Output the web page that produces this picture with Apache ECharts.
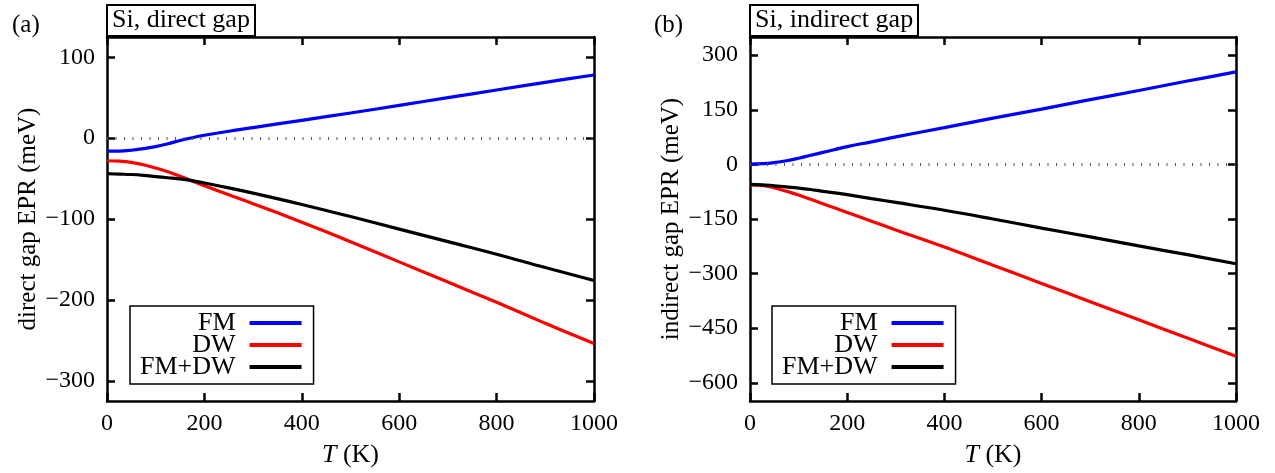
<!DOCTYPE html>
<html>
<head>
<meta charset="utf-8">
<script src="https://cdn.jsdelivr.net/npm/echarts@6/dist/echarts.min.js"></script>
<style>
html,body{margin:0;padding:0;background:#fff;}
#c{width:1275px;height:473px;}
</style>
</head>
<body>
<div id="c"></div>
<script>
// Temperatures (K)
const T = [0, 25, 50, 75, 100, 125, 150, 175, 200, 250, 300, 400, 500, 600, 700, 800, 900, 1000];

// (a) Si, direct gap EPR (meV)
const directFM   = [-16, -16, -15, -13, -10.5, -7, -3, 0.5, 3.5, 8.5, 13, 22, 31, 40.5, 50, 59.5, 69, 78];
const directDW   = [-28, -28.5, -30, -33, -37, -41.5, -47, -53, -59, -70, -81, -104, -128, -153, -178, -203, -229, -254];
const directSum  = [-44, -44.5, -45, -46, -47.5, -49, -50.5, -52.5, -55.5, -61.5, -68, -82, -97, -112.5, -128, -143.5, -160, -176];

// (b) Si, indirect gap EPR (meV)
const indirectFM  = [1, 2, 5, 10, 17, 25, 33, 41, 49, 62, 75.5, 101, 127, 152, 178, 203, 229, 254];
const indirectDW  = [-56, -58, -64, -74, -84, -96, -108, -120, -132, -156, -180, -227, -277, -327, -377, -427, -477, -527];
const indirectSum = [-55, -56, -59, -62, -65, -69, -74, -78, -83, -94, -104.5, -126, -150, -175, -199, -224, -248, -273];

const xTicks = [0, 200, 400, 600, 800, 1000];
const yTicksA = [-300, -200, -100, 0, 100];
const yTicksB = [-600, -450, -300, -150, 0, 150, 300];

const seriesNames = ['FM', 'DW', 'FM+DW'];
const colors = ['#0000ff', '#ff0000', '#000000'];
const panelLabels = ['(a)', '(b)'];
const panelTitles = ['Si, direct gap', 'Si, indirect gap'];
const yNames = ['direct gap EPR (meV)', 'indirect gap EPR (meV)'];

const SERIF = '"Liberation Serif", "DejaVu Serif", serif';
const pair = (xs, ys) => xs.map((x, i) => [x, ys[i]]);
const minus = v => String(v).replace('-', '\u2212');

const grids = [
  {left: 107, top: 37, width: 487, height: 365},
  {left: 750, top: 37, width: 486, height: 365}
];
const yRanges = [[-325, 125, yTicksA], [-650, 350, yTicksB]];

const xAxes = [], yAxes = [], series = [];
grids.forEach((g, gi) => {
  const lineSt = {show: true, onZero: false, lineStyle: {color: '#000', width: 2.5}};
  const tickSt = {show: true, inside: true, length: 8, lineStyle: {color: '#000', width: 2.5}};
  xAxes.push({
    type: 'value', gridIndex: gi, position: 'bottom', min: 0, max: 1000, interval: 200,
    axisLine: lineSt, axisTick: tickSt, splitLine: {show: false},
    axisLabel: {fontFamily: SERIF, fontSize: 24, color: '#000', margin: 11, formatter: v => String(v)},
    name: '{i|T} (K)', nameLocation: 'middle', nameGap: 41,
    nameTextStyle: {fontFamily: SERIF, fontSize: 26, color: '#000',
      rich: {i: {fontFamily: SERIF, fontSize: 26, fontStyle: 'italic', color: '#000'}}}
  });
  xAxes.push({
    type: 'value', gridIndex: gi, position: 'top', min: 0, max: 1000, interval: 200,
    axisLine: lineSt, axisTick: tickSt, splitLine: {show: false}, axisLabel: {show: false}
  });
  const [mn, mx, ticks] = yRanges[gi];
  yAxes.push({
    type: 'value', gridIndex: gi, position: 'left', min: mn, max: mx,
    axisLine: lineSt, splitLine: {show: false},
    axisTick: Object.assign({customValues: ticks}, tickSt),
    axisLabel: {customValues: ticks, fontFamily: SERIF, fontSize: 24, color: '#000', margin: 12, formatter: minus},
    name: yNames[gi], nameLocation: 'middle', nameGap: 66, nameRotate: 90,
    nameTextStyle: {fontFamily: SERIF, fontSize: 25, color: '#000'}
  });
  yAxes.push({
    type: 'value', gridIndex: gi, position: 'right', min: mn, max: mx,
    axisLine: lineSt, splitLine: {show: false},
    axisTick: Object.assign({customValues: ticks}, tickSt),
    axisLabel: {show: false}
  });
});

const dataSets = [[directFM, directDW, directSum], [indirectFM, indirectDW, indirectSum]];
dataSets.forEach((set, gi) => {
  set.forEach((vals, si) => {
    const s = {
      name: seriesNames[si], type: 'line', xAxisIndex: gi * 2, yAxisIndex: gi * 2,
      data: pair(T, vals), showSymbol: false, symbol: 'none', smooth: 0.4,
      lineStyle: {color: colors[si], width: 3.2}, itemStyle: {color: colors[si]},
      z: 3 + si, silent: true, animation: false
    };
    if (si === 0) {
      s.markLine = {
        silent: true, symbol: 'none', label: {show: false}, animation: false,
        lineStyle: {color: '#555', width: 3, type: [1, 7.5]},
        data: [{yAxis: 0}]
      };
    }
    series.push(s);
  });
});

const legends = [130, 772].map(left => ({
  orient: 'vertical', left: left, top: 306, align: 'right',
  icon: 'rect', itemWidth: 52, itemHeight: 4, itemGap: -4,
  borderColor: '#000', borderWidth: 1.5, padding: [4, 12, 4, 10],
  textStyle: {fontFamily: SERIF, fontSize: 26, color: '#000', lineHeight: 22, padding: [0, 9, 0, 0]},
  data: seriesNames, selectedMode: false
}));

const titles = [];
grids.forEach((g, gi) => {
  titles.push({
    text: panelTitles[gi], left: g.left, top: 5,
    borderColor: '#000', borderWidth: 2, padding: [3, 5, 3, 5],
    textStyle: {fontFamily: SERIF, fontSize: 26, fontWeight: 'normal', color: '#000', lineHeight: 25}
  });
});
titles.push({text: panelLabels[0], left: 7, top: 8, textStyle: {fontFamily: SERIF, fontSize: 25, fontWeight: 'normal', color: '#000'}});
titles.push({text: panelLabels[1], left: 649, top: 8, textStyle: {fontFamily: SERIF, fontSize: 25, fontWeight: 'normal', color: '#000'}});

const chart = echarts.init(document.getElementById('c'), null, {renderer: 'canvas'});
chart.setOption({
  animation: false,
  backgroundColor: '#fff',
  title: titles,
  grid: grids.map(g => Object.assign({containLabel: false}, g)),
  legend: legends,
  xAxis: xAxes,
  yAxis: yAxes,
  series: series
});
</script>
</body>
</html>
